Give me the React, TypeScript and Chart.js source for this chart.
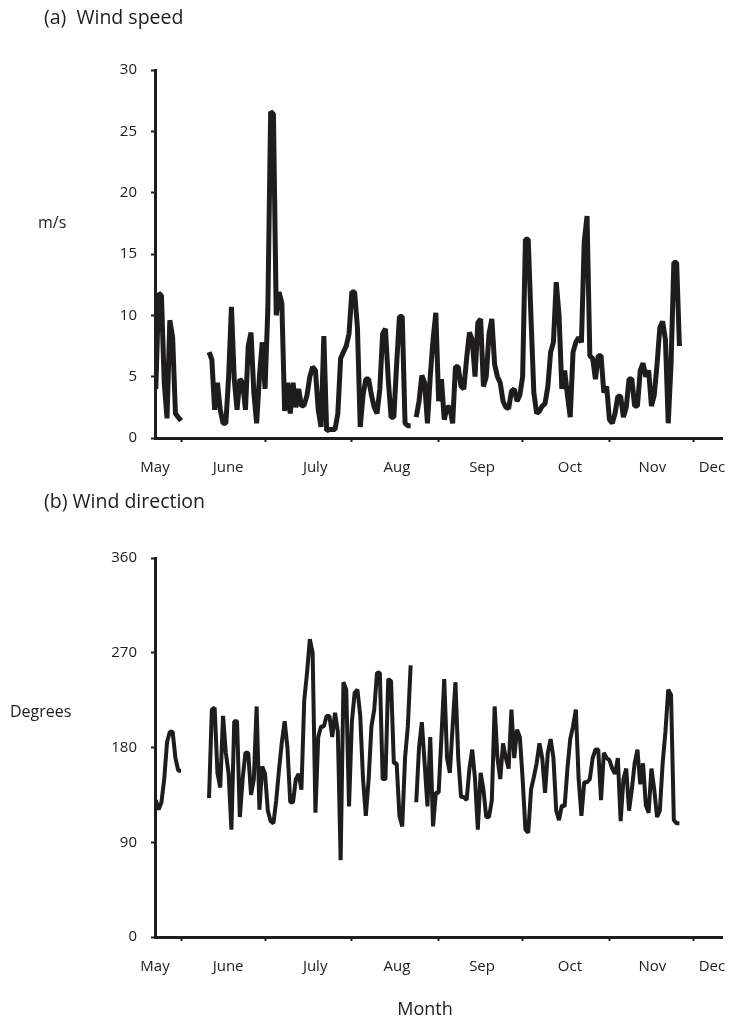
import React, { useEffect, useRef } from 'react';
import { Chart, registerables } from 'chart.js';

Chart.register(...registerables);

// Month axis: days counted from 1 May
const monthNames = ['May', 'June', 'July', 'Aug', 'Sep', 'Oct', 'Nov', 'Dec'];
const monthLabelDays = [21.7, 47.8, 78.9, 108.1, 138.5, 169.9, 199.3, 220.6];
const monthStartDays = [31, 61, 92, 123, 153, 184, 214];
const xMinDay = 21.7;
const xMaxDay = 224.2;

const speedTicks = [0, 5, 10, 15, 20, 25, 30];
const directionTicks = [0, 90, 180, 270, 360];

// first record block (late May) and main block (June - Nov), daily values
const mayStartDay = 22;
const mainStartDay = 41;

const maySpeed = [4.0, 11.8, 11.6, 4.5, 1.6, 9.6, 8.2, 2.0, 1.7, 1.4];
const mainSpeed = [
  7.0, 6.4, 2.3, 4.5, 2.3, 1.2, 1.2, 5.0, 10.7, 4.8,
  2.3, 4.8, 4.5, 2.3, 7.5, 8.6, 3.7, 1.2, 5.0, 7.8,
  4.0, 10.5, 26.6, 26.4, 10.0, 11.9, 11.0, 2.2, 4.5, 2.0,
  4.5, 2.5, 4.0, 2.6, 2.7, 3.5, 5.0, 5.8, 5.5, 2.3,
  0.9, 8.3, 0.6, 0.7, 0.7, 0.7, 2.0, 6.5, 7.0, 7.5,
  8.5, 11.9, 11.9, 9.0, 0.9, 3.5, 4.8, 4.8, 3.5, 2.5,
  2.0, 4.0, 8.5, 8.9, 4.8, 1.7, 1.7, 6.0, 9.9, 9.9,
  1.2, 1.0, 1.0, null, 1.7, 3.0, 5.1, 4.5, 1.2, 5.0,
  8.0, 10.2, 3.0, 4.8, 1.5, 2.5, 2.5, 1.2, 5.8, 5.8,
  4.2, 4.0, 6.5, 8.6, 8.0, 5.0, 9.4, 9.7, 4.2, 5.0,
  8.5, 9.7, 6.0, 5.0, 4.5, 3.0, 2.5, 2.4, 3.8, 4.0,
  3.0, 3.5, 5.0, 16.2, 16.2, 9.7, 3.7, 2.0, 2.2, 2.6,
  2.8, 4.2, 7.0, 7.8, 12.7, 10.0, 4.0, 5.5, 3.5, 1.7,
  7.0, 7.8, 8.2, 7.8, 16.0, 18.1, 6.7, 6.5, 4.8, 6.7,
  6.7, 3.7, 4.2, 1.5, 1.2, 2.0, 3.4, 3.4, 1.7, 2.5,
  4.8, 4.8, 2.6, 2.6, 5.5, 6.1, 5.0, 5.5, 2.6, 3.5,
  6.0, 9.0, 9.5, 8.0, 1.2, 6.0, 14.3, 14.3, 7.5,
];

const mayDirection = [130, 121, 128, 150, 185, 195, 195, 170, 158, 158];
const mainDirection = [
  132, 216, 218, 156, 142, 210, 175, 155, 102, 205,
  205, 114, 150, 175, 175, 135, 150, 219, 121, 162,
  155, 120, 110, 108, 130, 159, 185, 205, 180, 128,
  128, 150, 155, 140, 225, 251, 283, 270, 118, 190,
  200, 200, 210, 210, 190, 213, 195, 73, 242, 235,
  124, 204, 232, 235, 210, 150, 115, 150, 200, 216,
  251, 251, 150, 150, 245, 243, 165, 165, 115, 105,
  170, 200, 258, null, 128, 180, 204, 165, 124, 190,
  105, 137, 137, 190, 245, 170, 156, 200, 242, 170,
  133, 133, 130, 160, 178, 150, 102, 156, 140, 114,
  114, 130, 219, 170, 150, 184, 170, 160, 216, 170,
  197, 190, 150, 102, 99, 140, 152, 165, 184, 170,
  137, 175, 188, 170, 120, 111, 125, 124, 160, 188,
  200, 216, 150, 115, 147, 147, 150, 170, 178, 178,
  130, 175, 170, 168, 160, 155, 170, 110, 150, 160,
  120, 140, 165, 178, 145, 165, 125, 118, 160, 140,
  114, 120, 165, 195, 235, 230, 111, 108, 108,
];

const INK = '#1e1c1d';
const FAMILY = "'Open Sans', 'Noto Sans', sans-serif";
const FONT = { family: FAMILY, size: 15 };

type Pt = { x: number; y: number | null };

function buildPoints(may: number[], main: (number | null)[]): Pt[] {
  const pts: Pt[] = may.map((v, i) => ({ x: mayStartDay + i, y: v }));
  pts.push({ x: (mayStartDay + may.length + mainStartDay) / 2, y: null });
  main.forEach((v, i) => pts.push({ x: mainStartDay + i, y: v }));
  return pts;
}

type TextItem = { text: string; x: number; y: number; size: number; align?: CanvasTextAlign };

function textPlugin(items: TextItem[]) {
  return {
    id: 'panelText',
    afterDraw(chart: any) {
      const ctx = chart.ctx as CanvasRenderingContext2D;
      ctx.save();
      ctx.fillStyle = INK;
      ctx.textBaseline = 'middle';
      items.forEach((it) => {
        ctx.font = `${it.size}px ${FAMILY}`;
        ctx.textAlign = it.align || 'left';
        ctx.fillText(it.text, it.x, it.y);
      });
      ctx.restore();
    },
  };
}

function makeConfig(
  points: Pt[],
  yMax: number,
  yTicks: number[],
  lineWidth: number,
  padTop: number,
  xHeight: number,
  items: TextItem[],
): any {
  return {
    type: 'line',
    data: {
      datasets: [
        {
          data: points,
          borderColor: INK,
          borderWidth: lineWidth,
          borderJoinStyle: 'bevel',
          borderCapStyle: 'butt',
          pointRadius: 0,
          tension: 0,
          spanGaps: false,
          fill: false,
        },
      ],
    },
    options: {
      responsive: false,
      animation: false,
      events: [],
      layout: { padding: { top: padTop, right: 7, left: 0, bottom: 0 } },
      plugins: {
        legend: { display: false },
        tooltip: { enabled: false },
        title: { display: false },
      },
      scales: {
        x: {
          type: 'linear',
          min: xMinDay,
          max: xMaxDay,
          afterBuildTicks: (s: any) => {
            s.ticks = [...monthStartDays, ...monthLabelDays]
              .sort((a, b) => a - b)
              .map((v) => ({ value: v }));
          },
          afterFit: (s: any) => {
            s.height = xHeight;
            s.paddingLeft = 0;
            s.paddingRight = 0;
          },
          ticks: {
            autoSkip: false,
            maxRotation: 0,
            minRotation: 0,
            padding: 17,
            color: INK,
            font: FONT,
            callback: (v: number) => {
              const i = monthLabelDays.indexOf(v);
              return i >= 0 ? monthNames[i] : '';
            },
          },
          grid: {
            drawOnChartArea: false,
            tickLength: 4,
            tickWidth: 2,
            tickColor: (c: any) =>
              c.tick && monthStartDays.includes(c.tick.value) ? INK : 'rgba(0,0,0,0)',
          },
          border: { display: true, width: 3, color: INK },
        },
        y: {
          type: 'linear',
          min: 0,
          max: yMax,
          afterBuildTicks: (s: any) => {
            s.ticks = yTicks.map((v) => ({ value: v }));
          },
          afterFit: (s: any) => {
            s.width = 155;
            s.paddingTop = 0;
            s.paddingBottom = 0;
          },
          ticks: { padding: 14, color: INK, font: FONT },
          grid: { drawOnChartArea: false, tickLength: 4, tickWidth: 2, tickColor: INK },
          border: { display: true, width: 3, color: INK },
        },
      },
    },
    plugins: [textPlugin(items)],
  };
}

function Panel(props: { config: any; width: number; height: number; top: number }) {
  const ref = useRef<HTMLCanvasElement | null>(null);
  useEffect(() => {
    if (!ref.current) return;
    const chart = new Chart(ref.current, props.config);
    return () => chart.destroy();
  }, []);
  return (
    <canvas
      ref={ref}
      width={props.width}
      height={props.height}
      style={{ position: 'absolute', left: 0, top: props.top, display: 'block' }}
    />
  );
}

export default function App() {
  const speedConfig = makeConfig(
    buildPoints(maySpeed, mainSpeed),
    30,
    speedTicks,
    5,
    70,
    42,
    [
      { text: '(a)  Wind speed', x: 44, y: 18, size: 19.5 },
      { text: 'm/s', x: 38, y: 223, size: 16 },
    ],
  );
  const dirConfig = makeConfig(
    buildPoints(mayDirection, mainDirection),
    360,
    directionTicks,
    4,
    78,
    86,
    [
      { text: '(b) Wind direction', x: 44, y: 22, size: 19.5 },
      { text: 'Degrees', x: 10, y: 232, size: 16 },
      { text: 'Month', x: 425, y: 530, size: 18, align: 'center' },
    ],
  );
  return (
    <div style={{ position: 'absolute', left: 0, top: 0, width: 729, height: 1023, background: '#fff' }}>
      <Panel config={speedConfig} width={729} height={480} top={0} />
      <Panel config={dirConfig} width={729} height={543} top={480} />
    </div>
  );
}
